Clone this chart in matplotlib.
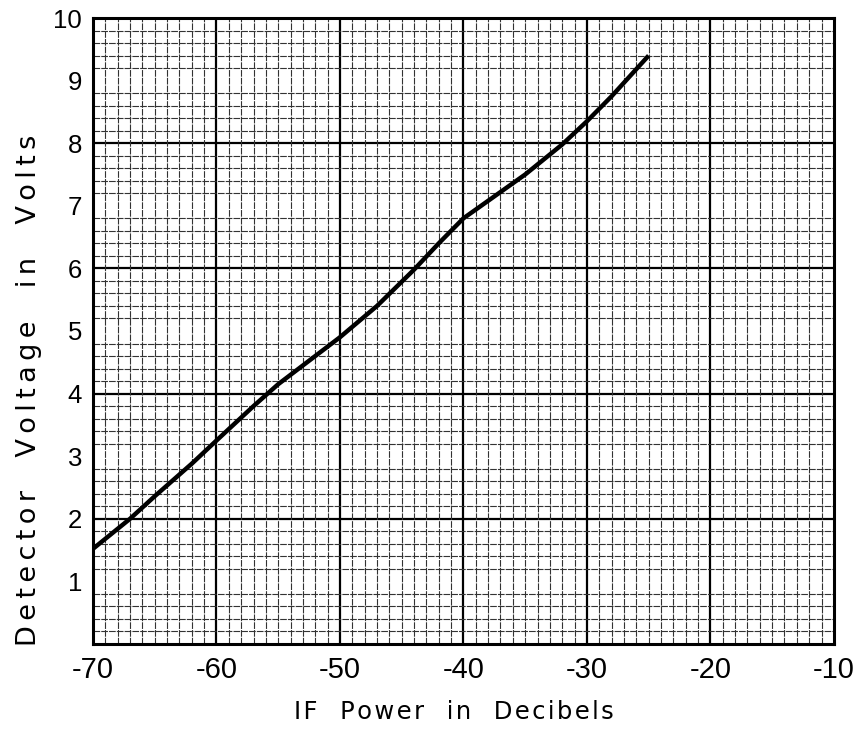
import numpy as np
import matplotlib.pyplot as plt
from matplotlib.ticker import MultipleLocator, FixedLocator

# ---------------- DATA ----------------
power_db = [-70, -67, -65, -62, -60, -57, -55, -52, -50, -47,
            -44, -42, -40, -38, -35, -32, -30, -28, -25]
voltage = [1.52, 2.0, 2.36, 2.88, 3.25, 3.8, 4.15, 4.6, 4.9, 5.4,
           5.98, 6.4, 6.8, 7.08, 7.5, 7.98, 8.35, 8.75, 9.4]

x_ticks = [-70, -60, -50, -40, -30, -20, -10]
y_ticks = [1, 2, 3, 4, 5, 6, 7, 8, 9, 10]

tick_font = ["Liberation Sans", "DejaVu Sans"]
label_font = ["DejaVu Sans"]


def spaced(s, gap="\u200a"):
    # letter spacing, like the lettering on the original plate
    return gap.join(s)


# ---------------- PLOT ----------------
fig = plt.figure(figsize=(8.65, 7.39), dpi=100)
ax = fig.add_axes([0.1075, 0.1286, 0.8565, 0.847])

ax.set_xlim(-70, -10)
ax.set_ylim(0, 10)

# graph-paper grid
ax.xaxis.set_minor_locator(MultipleLocator(1))
ax.yaxis.set_minor_locator(MultipleLocator(0.2))
ax.xaxis.set_major_locator(FixedLocator(x_ticks))
ax.yaxis.set_major_locator(FixedLocator(y_ticks))

ax.grid(which="minor", color="#333333", linewidth=0.8, linestyle=(0, (6, 1)))
for v in range(-60, -10, 10):
    ax.axvline(v, color="black", linewidth=1.6, zorder=1)
for v in range(2, 10, 2):
    ax.axhline(v, color="black", linewidth=1.6, zorder=1)

ax.plot(power_db, voltage, color="black", linewidth=3.2, solid_capstyle="butt", zorder=3)

ax.tick_params(which="both", length=0)
ax.tick_params(axis="x", pad=9)
ax.tick_params(axis="y", pad=8)
ax.set_xticks(x_ticks)
ax.set_xticklabels([str(t) for t in x_ticks], family=tick_font, fontsize=21)
ax.set_yticks(y_ticks)
ax.set_yticklabels([str(t) for t in y_ticks], family=tick_font, fontsize=18.5)

for sp in ax.spines.values():
    sp.set_linewidth(2.2)
    sp.set_color("black")

fig.text(0.525, 0.036, spaced("IF  Power  in  Decibels"), ha="center", va="center",
         family=label_font, fontsize=17.5)
fig.text(0.033, 0.472, spaced("Detector  Voltage  in  Volts", "\u2009"), ha="center",
         va="center", rotation=90, family=label_font, fontsize=19.5)

fig.savefig("out.png", dpi=100)
